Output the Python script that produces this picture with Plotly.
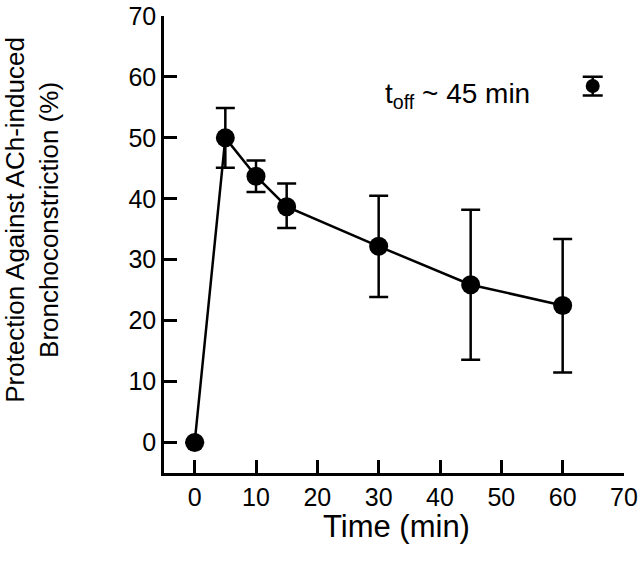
import plotly.graph_objects as go

time_min = [0, 5, 10, 15, 30, 45, 60]
protection = [0, 50.0, 43.7, 38.7, 32.2, 25.9, 22.5]
err_plus = [0, 4.9, 2.6, 3.8, 8.3, 12.3, 10.9]
err_minus = [0, 4.9, 2.6, 3.5, 8.3, 12.3, 11.0]

legend_x = [64.9]
legend_y = [58.5]
legend_err = [1.55]

x_ticks = [0, 10, 20, 30, 40, 50, 60, 70]
y_ticks = [0, 10, 20, 30, 40, 50, 60, 70]

FONT = "Liberation Sans, Arial, sans-serif"

fig = go.Figure()
fig.add_trace(go.Scatter(
    x=time_min, y=protection, mode="lines+markers",
    line=dict(color="black", width=2.5),
    marker=dict(color="black", size=19),
    error_y=dict(type="data", symmetric=False, array=err_plus, arrayminus=err_minus,
                 color="black", thickness=2.5, width=9.5),
    cliponaxis=False, showlegend=False,
))
fig.add_trace(go.Scatter(
    x=legend_x, y=legend_y, mode="markers",
    marker=dict(color="black", size=14),
    error_y=dict(type="data", array=legend_err, color="black", thickness=2.5, width=10),
    cliponaxis=False, showlegend=False,
))

fig.add_annotation(x=30.7, y=57.0, xref="x", yref="y", xanchor="left", yanchor="middle",
                   text="t<sub>off</sub> ~ 45 min", showarrow=False,
                   font=dict(family=FONT, size=28, color="black"))
fig.add_annotation(x=-0.286, y=0.555, xref="paper", yref="paper", xanchor="center", yanchor="middle",
                   text="Protection Against ACh-induced<br>Bronchoconstriction (%)", textangle=-90,
                   showarrow=False, font=dict(family=FONT, size=26, color="black"))
fig.add_annotation(x=0.506, y=-0.117, xref="paper", yref="paper", xanchor="center", yanchor="middle",
                   text="Time (min)", showarrow=False,
                   font=dict(family=FONT, size=31, color="black"))

axis_common = dict(showline=True, linecolor="black", linewidth=2.5, ticks="inside",
                   ticklen=13, tickwidth=2.5, tickcolor="black", showgrid=False, zeroline=False,
                   tickfont=dict(family=FONT, size=25, color="black"), range=[-5, 70],
                   automargin=False)

fig.update_xaxes(**axis_common, tickvals=x_ticks)
fig.update_yaxes(**axis_common, tickvals=y_ticks)

fig.update_layout(width=640, height=573, margin=dict(l=164, r=16, t=16, b=100),
                  plot_bgcolor="white", paper_bgcolor="white", font=dict(family=FONT))
fig.write_html("out.html", config={"displayModeBar": False},
               post_script="document.body.style.margin='0';")
